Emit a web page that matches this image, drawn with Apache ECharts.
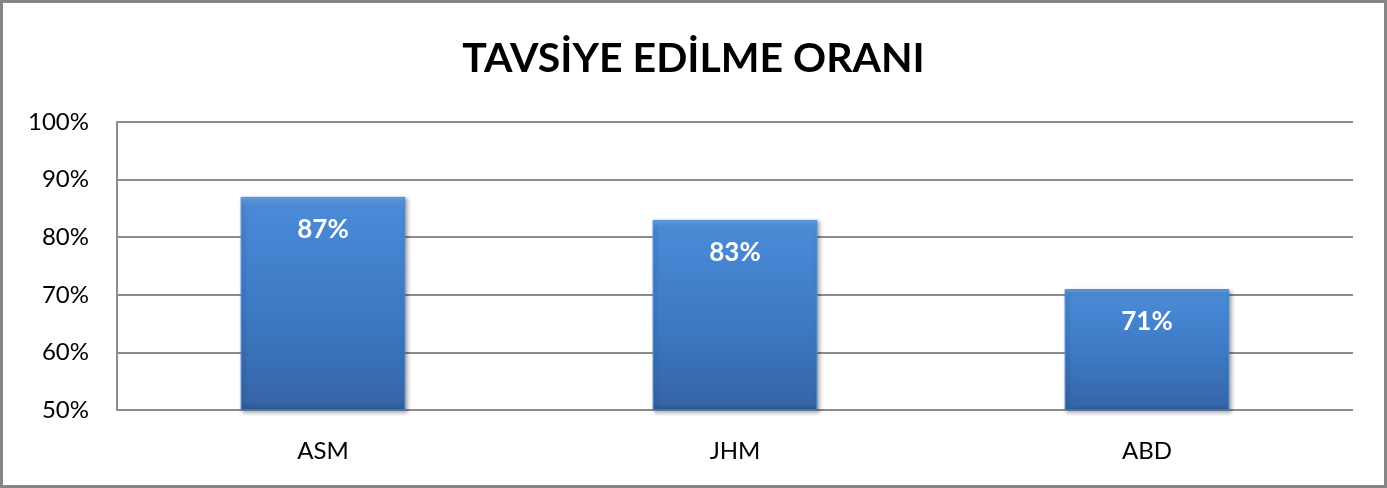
<!DOCTYPE html>
<html><head><meta charset="utf-8">
<script src="https://cdn.jsdelivr.net/npm/echarts@6/dist/echarts.min.js"></script>
<style>html,body{margin:0;padding:0;background:#fff}#c{width:1387px;height:488px}</style>
</head><body><div id="c"></div>
<script>
const categories = ['ASM', 'JHM', 'ABD'];
const values = [87, 83, 71];
const yTicks = [50, 60, 70, 80, 90, 100];
const titleText = 'TAVSİYE EDİLME ORANI';

const chart = echarts.init(document.getElementById('c'), null, {renderer: 'canvas'});
chart.setOption({
  animation: false,
  backgroundColor: '#fff',
  title: {
    text: titleText, left: 'center', top: 33,
    textStyle: {fontFamily: 'Lato', fontWeight: 'bold', fontSize: 41, color: '#000'}
  },
  graphic: [{
    type: 'rect', shape: {x: 1.5, y: 1.5, width: 1384, height: 485},
    style: {fill: 'none', stroke: '#868686', lineWidth: 3}, silent: true
  }],
  grid: {left: 117, right: 34, top: 122, bottom: 78},
  xAxis: {
    type: 'category', data: categories,
    axisLine: {show: false}, axisTick: {show: false},
    axisLabel: {margin: 29, fontFamily: 'Lato', fontSize: 24, color: '#000'}
  },
  yAxis: {
    type: 'value', min: yTicks[0], max: yTicks[yTicks.length - 1], interval: 10,
    axisLine: {show: true, lineStyle: {color: '#8c8c8c', width: 2}},
    axisTick: {show: false},
    splitLine: {lineStyle: {color: '#8c8c8c', width: 2}},
    axisLabel: {margin: 28, fontFamily: 'Lato', fontSize: 24, color: '#000', formatter: '{value}%'}
  },
  series: [{
    type: 'bar', data: values, barWidth: '40%',
    itemStyle: {
      color: new echarts.graphic.LinearGradient(0, 0, 0, 1, [
        {offset: 0, color: '#6aa6ea'},
        {offset: 0.04, color: '#4a8ad6'},
        {offset: 0.5, color: '#3e7bc7'},
        {offset: 0.96, color: '#3666a8'},
        {offset: 1, color: '#2c5690'}
      ]),
      borderColor: '#4f8ed8', borderWidth: 1,
      shadowColor: 'rgba(0,0,0,0.35)', shadowBlur: 4, shadowOffsetX: 2, shadowOffsetY: 2
    },
    label: {
      show: true, position: 'insideTop', distance: 20, formatter: '{c}%',
      fontFamily: 'Lato', fontWeight: 'bold', fontSize: 26, color: '#fff'
    }
  }]
});
</script></body></html>
